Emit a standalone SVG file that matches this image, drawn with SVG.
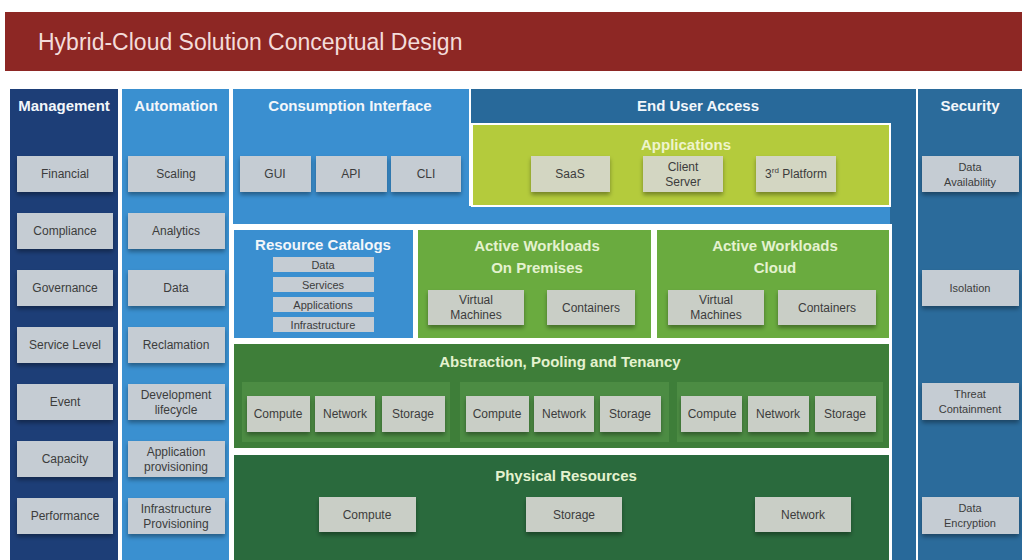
<svg xmlns="http://www.w3.org/2000/svg" width="1022" height="560" viewBox="0 0 1022 560">
<defs>
<filter id="sh" x="-10%" y="-20%" width="120%" height="160%"><feDropShadow dx="0" dy="3" stdDeviation="2" flood-color="#000" flood-opacity="0.35"/></filter>
<style>
text{font-family:"Liberation Sans",Arial,sans-serif}
.hd{font-weight:bold;font-size:15px;fill:#f2f6fa;text-anchor:middle}
.hg{font-weight:bold;font-size:15px;fill:#e4f2cf;text-anchor:middle}
.bx{fill:#c5ccd3;filter:url(#sh)}
.bxa{fill:#d3d6c2;filter:url(#sh)}
.bxg{fill:#c9cec6;filter:url(#sh)}
.lb{font-size:12px;fill:#3c3c3c;text-anchor:middle}
.sm{font-size:11px;fill:#3c3c3c;text-anchor:middle}
.pn{stroke:#ffffff;stroke-width:2}
</style>
</defs>
<rect width="1022" height="560" fill="#ffffff"/>
<g id="title">
<rect x="5" y="12" width="1017" height="59" fill="#8d2724"/>
<text x="38" y="50" font-size="23" fill="#f3dcda">Hybrid-Cloud Solution Conceptual Design</text>
</g>
<g id="management">
<rect x="10" y="89" width="108" height="471" fill="#1d3e77"/>
<text class="hd" x="64" y="111">Management</text>
<rect class="bx" x="17" y="156" width="96" height="36"/><text class="lb" x="65" y="178">Financial</text>
<rect class="bx" x="17" y="213" width="96" height="36"/><text class="lb" x="65" y="235">Compliance</text>
<rect class="bx" x="17" y="270" width="96" height="36"/><text class="lb" x="65" y="292">Governance</text>
<rect class="bx" x="17" y="327" width="96" height="36"/><text class="lb" x="65" y="349">Service Level</text>
<rect class="bx" x="17" y="384" width="96" height="36"/><text class="lb" x="65" y="406">Event</text>
<rect class="bx" x="17" y="441" width="96" height="36"/><text class="lb" x="65" y="463">Capacity</text>
<rect class="bx" x="17" y="498" width="96" height="36"/><text class="lb" x="65" y="520">Performance</text>
</g>
<g id="automation">
<rect x="122" y="89" width="107" height="471" fill="#3a90d0"/>
<text class="hd" x="176" y="111">Automation</text>
<rect class="bx" x="128" y="156" width="97" height="36"/><text class="lb" x="176" y="178">Scaling</text>
<rect class="bx" x="128" y="213" width="97" height="36"/><text class="lb" x="176" y="235">Analytics</text>
<rect class="bx" x="128" y="270" width="97" height="36"/><text class="lb" x="176" y="292">Data</text>
<rect class="bx" x="128" y="327" width="97" height="36"/><text class="lb" x="176" y="349">Reclamation</text>
<rect class="bx" x="128" y="384" width="97" height="36"/><text class="lb" x="176" y="399">Development</text><text class="lb" x="176" y="414">lifecycle</text>
<rect class="bx" x="128" y="441" width="97" height="36"/><text class="lb" x="176" y="456">Application</text><text class="lb" x="176" y="471">provisioning</text>
<rect class="bx" x="128" y="498" width="97" height="36"/><text class="lb" x="176" y="513">Infrastructure</text><text class="lb" x="176" y="528">Provisioning</text>
</g>
<g id="end-user-access">
<rect x="471" y="89" width="446" height="471" fill="#28699a"/>
<text class="hd" x="698" y="111">End User Access</text>
</g>
<g id="consumption-interface">
<rect x="233" y="89" width="237" height="135" fill="#3a8fd0"/>
<rect x="469" y="205" width="421" height="19" fill="#3a8fd0"/>
<line x1="470" y1="89" x2="470" y2="206" stroke="#fff" stroke-width="2"/>
<text class="hd" x="350" y="111">Consumption Interface</text>
<rect class="bx" x="240" y="156" width="71" height="36"/><text class="lb" x="275" y="178">GUI</text>
<rect class="bx" x="316" y="156" width="71" height="36"/><text class="lb" x="351" y="178">API</text>
<rect class="bx" x="391" y="156" width="70" height="36"/><text class="lb" x="426" y="178">CLI</text>
</g>
<g id="applications">
<rect class="pn" x="472" y="124" width="418" height="82" fill="#b4cb3c"/>
<text class="hd" x="686" y="150" style="fill:#eef4cc">Applications</text>
<rect class="bxa" x="531" y="156" width="79" height="36"/><text class="lb" x="570" y="178">SaaS</text>
<rect class="bxa" x="643" y="156" width="80" height="36"/><text class="lb" x="683" y="171">Client</text><text class="lb" x="683" y="186">Server</text>
<rect class="bxa" x="756" y="156" width="80" height="36"/><text class="lb" x="796" y="178">3<tspan font-size="8" dy="-5">rd</tspan><tspan dy="5"> Platform</tspan></text>
</g>
<g id="security">
<line x1="917" y1="89" x2="917" y2="560" stroke="#fff" stroke-width="2"/>
<rect x="918" y="89" width="104" height="471" fill="#2b6b9b"/>
<text class="hd" x="970" y="111">Security</text>
<rect class="bx" x="922" y="156" width="97" height="36"/><text class="sm" x="970" y="171">Data</text><text class="sm" x="970" y="186">Availability</text>
<rect class="bx" x="922" y="270" width="97" height="36"/><text class="sm" x="970" y="292">Isolation</text>
<rect class="bx" x="922" y="383" width="97" height="37"/><text class="sm" x="970" y="398">Threat</text><text class="sm" x="970" y="413">Containment</text>
<rect class="bx" x="922" y="497" width="97" height="37"/><text class="sm" x="970" y="512">Data</text><text class="sm" x="970" y="527">Encryption</text>
</g>
<rect x="231" y="224" width="661" height="336" fill="#ffffff"/>
<g id="resource-catalogs">
<rect class="pn" x="233" y="229" width="181" height="110" fill="#3a8fd0"/>
<text class="hd" x="323" y="250">Resource Catalogs</text>
<rect x="273" y="257" width="101" height="15" fill="#c5ccd3"/><text class="sm" x="323" y="269">Data</text>
<rect x="273" y="277" width="101" height="15" fill="#c5ccd3"/><text class="sm" x="323" y="289">Services</text>
<rect x="273" y="297" width="101" height="15" fill="#c5ccd3"/><text class="sm" x="323" y="309">Applications</text>
<rect x="273" y="317" width="101" height="15" fill="#c5ccd3"/><text class="sm" x="323" y="329">Infrastructure</text>
</g>
<g id="active-workloads-on-premises">
<rect class="pn" x="417" y="229" width="235" height="110" fill="#6aab3f"/>
<text class="hg" x="537" y="251">Active Workloads</text>
<text class="hg" x="537" y="273">On Premises</text>
<rect class="bxg" x="428" y="290" width="96" height="35"/><text class="lb" x="476" y="304">Virtual</text><text class="lb" x="476" y="319">Machines</text>
<rect class="bxg" x="547" y="290" width="88" height="35"/><text class="lb" x="591" y="312">Containers</text>
</g>
<g id="active-workloads-cloud">
<rect class="pn" x="656" y="229" width="234" height="110" fill="#6aab3f"/>
<text class="hg" x="775" y="251">Active Workloads</text>
<text class="hg" x="775" y="273">Cloud</text>
<rect class="bxg" x="668" y="290" width="96" height="35"/><text class="lb" x="716" y="304">Virtual</text><text class="lb" x="716" y="319">Machines</text>
<rect class="bxg" x="778" y="290" width="98" height="35"/><text class="lb" x="827" y="312">Containers</text>
</g>
<g id="abstraction">
<rect class="pn" x="233" y="343" width="657" height="106" fill="#3e7e39"/>
<text class="hg" x="560" y="367">Abstraction, Pooling and Tenancy</text>
<rect x="242" y="382" width="208" height="60" fill="#4c8c43"/>
<rect x="460" y="382" width="209" height="60" fill="#4c8c43"/>
<rect x="677" y="382" width="206" height="60" fill="#4c8c43"/>
<rect class="bxg" x="247" y="396" width="63" height="36"/><text class="lb" x="278" y="418">Compute</text>
<rect class="bxg" x="315" y="396" width="60" height="36"/><text class="lb" x="345" y="418">Network</text>
<rect class="bxg" x="382" y="396" width="63" height="36"/><text class="lb" x="413" y="418">Storage</text>
<rect class="bxg" x="466" y="396" width="63" height="36"/><text class="lb" x="497" y="418">Compute</text>
<rect class="bxg" x="534" y="396" width="60" height="36"/><text class="lb" x="564" y="418">Network</text>
<rect class="bxg" x="600" y="396" width="61" height="36"/><text class="lb" x="630" y="418">Storage</text>
<rect class="bxg" x="681" y="396" width="61" height="36"/><text class="lb" x="712" y="418">Compute</text>
<rect class="bxg" x="748" y="396" width="61" height="36"/><text class="lb" x="778" y="418">Network</text>
<rect class="bxg" x="815" y="396" width="61" height="36"/><text class="lb" x="845" y="418">Storage</text>
</g>
<g id="physical-resources">
<rect class="pn" x="233" y="454" width="657" height="108" fill="#2a6a3d"/>
<text class="hg" x="566" y="481">Physical Resources</text>
<rect class="bxg" x="319" y="497" width="97" height="35"/><text class="lb" x="367" y="519">Compute</text>
<rect class="bxg" x="526" y="497" width="96" height="35"/><text class="lb" x="574" y="519">Storage</text>
<rect class="bxg" x="755" y="497" width="96" height="35"/><text class="lb" x="803" y="519">Network</text>
</g>
</svg>
